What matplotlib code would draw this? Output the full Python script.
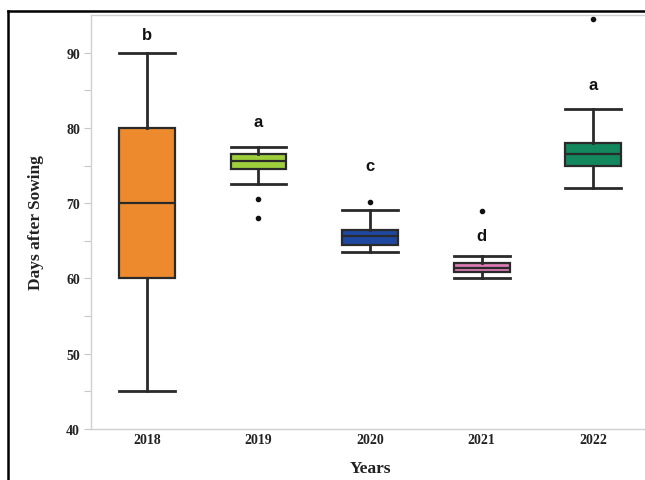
import matplotlib
matplotlib.use("Agg")
import matplotlib.pyplot as plt
from matplotlib.lines import Line2D

years = ["2018", "2019", "2020", "2021", "2022"]
whislo = [45.0, 72.6, 63.5, 60.0, 72.0]
q1 = [60.0, 74.5, 64.4, 60.9, 74.9]
med = [70.0, 75.6, 65.6, 61.4, 76.5]
q3 = [80.0, 76.6, 66.5, 62.0, 78.0]
whishi = [90.0, 77.5, 69.1, 63.0, 82.5]
outliers = [[], [70.5, 68.0], [70.1], [69.0], [94.5]]
letters = ["b", "a", "c", "d", "a"]
letter_y = [92.4, 80.8, 75.0, 65.7, 85.8]
colors = ["#EE8A2E", "#9DCF3C", "#1E48A0", "#D97AB0", "#13875E"]

fig = plt.figure(figsize=(6.45, 4.81), dpi=100)
W, H = 645, 481
ax = fig.add_axes([91 / W, 1 - 430 / H, (649 - 91) / W, (430 - 16) / H])

stats = []
for i in range(len(years)):
    stats.append(dict(label=years[i], whislo=whislo[i], q1=q1[i], med=med[i],
                      q3=q3[i], whishi=whishi[i], fliers=outliers[i]))

bp = ax.bxp(stats, positions=range(len(years)), widths=0.5, patch_artist=True,
            boxprops=dict(linewidth=1.6, edgecolor="#2a2a2a"),
            medianprops=dict(color="#2a2a2a", linewidth=1.6),
            whiskerprops=dict(color="#2a2a2a", linewidth=2.0),
            capprops=dict(color="#2a2a2a", linewidth=2.0),
            capwidths=0.5,
            flierprops=dict(marker="o", markersize=3, markerfacecolor="#111111",
                            markeredgecolor="#111111"))
for patch, c in zip(bp["boxes"], colors):
    patch.set_facecolor(c)

for i, (l, yv) in enumerate(zip(letters, letter_y)):
    ax.text(i, yv, l, ha="center", va="center", fontsize=12, fontweight="heavy",
            family="Liberation Sans", color="#111111")

ax.set_xlim(-0.5, 4.5)
ax.set_ylim(40, 95)
ax.set_yticks([40, 50, 60, 70, 80, 90])
ax.set_yticks([45, 55, 65, 75, 85], minor=True)
ax.set_xticks(range(len(years)))
ax.set_xticklabels(years)

for s in ax.spines.values():
    s.set_color("#d0d0d0")
    s.set_linewidth(1.0)

ax.tick_params(axis="y", which="both", colors="#c8c8c8", labelcolor="#222222",
               length=5, width=0.8, pad=3)
ax.tick_params(axis="x", length=0, pad=3, labelcolor="#222222")
for lab in ax.get_yticklabels() + ax.get_xticklabels():
    lab.set_family("Liberation Serif")
    lab.set_fontweight("bold")
    lab.set_fontsize(10)

ax.set_xlabel("Years", family="Liberation Serif", fontweight="bold", fontsize=12.5,
              color="#222222", labelpad=10)
ax.set_ylabel("Days after Sowing", family="Liberation Serif", fontweight="bold",
              fontsize=12.5, color="#222222", labelpad=16)

fig.add_artist(Line2D([8 / W, 8 / W], [0, 1 - 12 / H], color="black", linewidth=1.8,
                      transform=fig.transFigure))
fig.add_artist(Line2D([8 / W, 1], [1 - 12 / H, 1 - 12 / H], color="black", linewidth=1.8,
                      transform=fig.transFigure))

fig.savefig("out.png", dpi=100)
